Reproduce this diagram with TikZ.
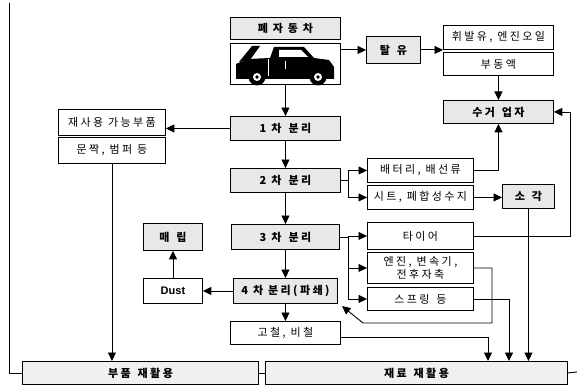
\documentclass[tikz,border=0pt]{standalone}
\usepackage{fontspec}
\usetikzlibrary{arrows.meta}
\newfontfamily\kr{Noto Sans CJK KR}[LetterSpace=22]
\newfontfamily\latin{Liberation Sans}
\newcommand\gap{\hspace{7pt}}
\begin{document}
\begin{tikzpicture}[x=1pt,y=-1pt,
  box/.style={draw, line width=0.9pt, fill=white, inner sep=1pt, anchor=north west,
    align=center, font=\kr\fontsize{11}{13}\selectfont},
  shade/.style={box, fill=black!9, font=\kr\bfseries\fontsize{11}{13}\selectfont},
  link/.style={line width=0.9pt},
  arr/.style={line width=0.9pt, -{Triangle[length=8.5pt,width=8pt]}}]
\useasboundingbox (0,0) rectangle (577,385);

% vehicle
\node[shade, minimum width=110pt, minimum height=22pt] (title) at (230,17) {폐 자 동 차};
\node[box, minimum width=110pt, minimum height=41pt] (carbox) at (230,43) {};
\fill (236,77) -- (236,64) -- (248,59) -- (270,58) -- (274,47) -- (304,47)
      -- (314,58) -- (329,60) -- (334,67) -- (334,79) -- (236,79) -- cycle;
\fill (239,62) -- (252,46) -- (260,46) -- (250,60) -- cycle;
\fill[white] (279,50) -- (301,50) -- (308,57) -- (279,57) -- cycle;
\draw[white, line width=0.9pt] (285,61) -- (285,69);
\draw[white, line width=0.6pt] (268,59) -- (268,76);
\foreach \cx in {257,318} {
  \fill (\cx,77) circle[radius=8.5pt];
  \fill[white] (\cx,77) circle[radius=4pt];
  \fill (\cx,77) circle[radius=1.8pt];
}

% oil removal branch
\node[shade, minimum width=54pt, minimum height=27pt] (oil) at (366,36) {탈\gap 유};
\node[box, minimum width=110pt, minimum height=24pt] (fuel) at (443,25) {휘발유, 엔진오일};
\node[box, minimum width=110pt, minimum height=23pt] (anti) at (443,52) {부동액};
\node[shade, minimum width=110pt, minimum height=23pt] (collect) at (443,100) {수거\gap 업자};

% separation stages
\node[shade, minimum width=110pt, minimum height=24pt] (sep1) at (230,116) {1 차\gap 분리};
\node[shade, minimum width=110pt, minimum height=24pt] (sep2) at (230,168) {2 차\gap 분리};
\node[shade, minimum width=108pt, minimum height=25pt] (sep3) at (231,224) {3 차\gap 분리};
\node[shade, minimum width=104pt, minimum height=25pt] (sep4) at (233,278) {4 차 분리(파쇄)};
\node[box, minimum width=110pt, minimum height=23pt] (scrap) at (230,321) {고철, 비철};

% reusable parts
\node[box, minimum width=107pt, minimum height=26pt] (reuse) at (58,109) {재사용 가능부품};
\node[box, minimum width=107pt, minimum height=26pt] (door) at (58,137) {문짝, 범퍼 등};

% second stage outputs
\node[box, minimum width=106pt, minimum height=24pt] (batt) at (367,158) {배터리, 배선류};
\node[box, minimum width=106pt, minimum height=24pt] (seat) at (367,185) {시트, 폐합성수지};
\node[shade, minimum width=52pt, minimum height=24pt] (burn) at (502,184) {소\gap 각};

% third stage outputs
\node[box, minimum width=106pt, minimum height=27pt] (tire) at (367,222) {타이어};
\node[box, minimum width=106pt, minimum height=31pt, font=\kr\fontsize{11}{13}\selectfont] (engine) at (367,252) {엔진, 변속기,\\전후자축};
\node[box, minimum width=106pt, minimum height=23pt] (spring) at (367,287) {스프링\gap 등};

% dust and landfill
\node[shade, minimum width=59pt, minimum height=27pt] (landfill) at (143,223) {매\gap 립};
\node[box, minimum width=59pt, minimum height=25pt, font=\latin\bfseries\fontsize{11}{13}\selectfont] (dust) at (143,278) {Dust};

% recycling outcomes
\node[shade, fill=black!6, minimum width=236pt, minimum height=23pt] (partsrec) at (22,361) {부품\gap 재활용};
\node[shade, fill=black!6, minimum width=302pt, minimum height=23pt] (matrec) at (265,361) {재료\gap 재활용};

% main flow
\draw[arr] (carbox.south) -- (sep1.north);
\draw[arr] (sep1.south) -- (sep2.north);
\draw[arr] (sep2.south) -- (sep3.north);
\draw[arr] (sep3.south) -- (sep4.north);
\draw[arr] (sep4.south) -- (scrap.north);

% oil removal flow
\draw[arr] (carbox.east |- oil.west) -- (oil.west);
\draw[arr] (oil.east) -- (oil.east -| fuel.south west);
\draw[arr] (anti.south) -- (collect.north);

% reusable parts flow
\draw[arr] (sep1.west) -- (sep1.west -| reuse.east);
\draw[arr] (door.south) -- (door.south |- partsrec.north);

% second stage split
\draw[arr] (sep2.east) -- ++(8,0) |- (batt.west);
\draw[arr] (sep2.east) -- ++(8,0) |- (seat.west);
\draw[arr] (batt.east) -| (collect.south);
\draw[arr] (seat.east) -- (seat.east -| burn.west);
\draw[arr] (burn.south) -- (burn.south |- matrec.north);

% third stage split
\draw[arr] (sep3.east) -- ++(9,0) |- (tire.west);
\draw[arr] (sep3.east) -- ++(9,0) |- (engine.west);
\draw[arr] (sep3.east) -- ++(9,0) |- (spring.west);
\draw[arr] (tire.east) -- ++(97,0) |- (collect.east);

% engine parts returned to shredding
\coordinate (eturn) at (492,323);
\coordinate (ebend) at (363,323);
\coordinate (etip) at (342,306);
\draw[arr] (engine.east) -| (eturn) -- (ebend) -- (etip);

% to material recycling
\coordinate (m1) at (488,361);
\coordinate (m2) at (509,361);
\draw[arr] ([yshift=-4pt]scrap.east) -| (m1);
\draw[arr] (spring.east) -| (m2);

% dust to landfill
\draw[arr] (sep4.west) -- (dust.east);
\draw[arr] (dust.north) -- (landfill.south);

% outer frame lines
\coordinate (ftop) at (9,3);
\coordinate (fright) at (577,372);
\draw[link] (ftop) |- (partsrec.west);
\draw[link] (partsrec.east) -- (matrec.west);
\draw[link] (matrec.east) -- (fright);
\end{tikzpicture}
\end{document}
